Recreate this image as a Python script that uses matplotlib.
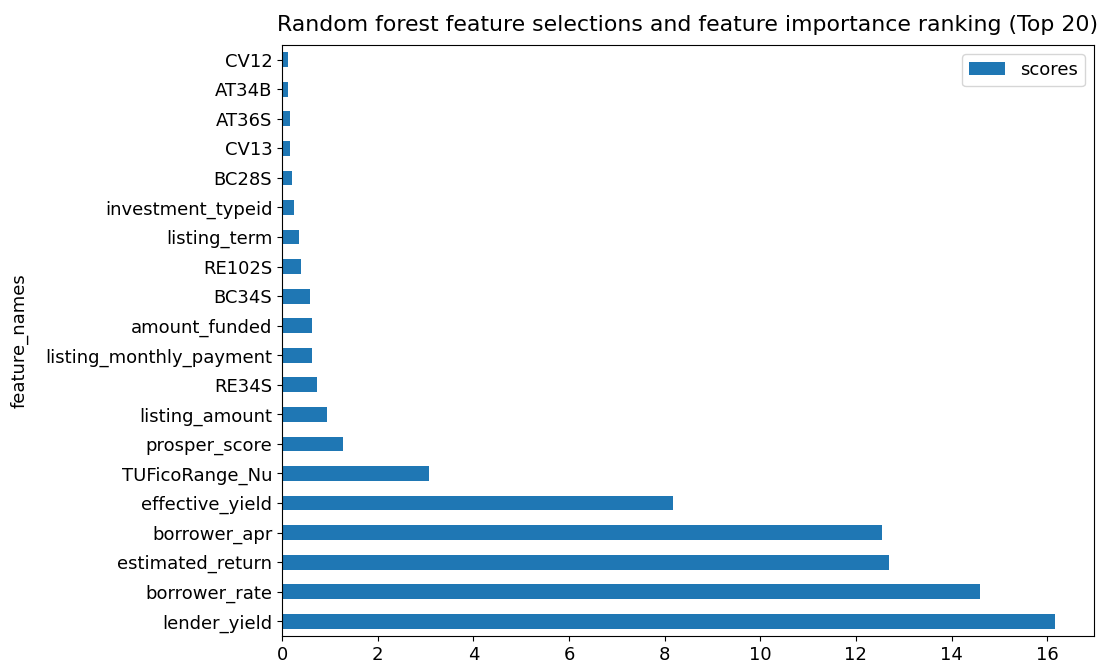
import pandas as pd
import matplotlib
matplotlib.use("Agg")
import matplotlib.pyplot as plt

# Top 20 features, largest first (drawn from the bottom up)
feature_names = [
    "lender_yield", "borrower_rate", "estimated_return", "borrower_apr",
    "effective_yield", "TUFicoRange_Nu", "prosper_score", "listing_amount",
    "RE34S", "listing_monthly_payment", "amount_funded", "BC34S", "RE102S",
    "listing_term", "investment_typeid", "BC28S", "CV13", "AT36S", "AT34B", "CV12",
]
scores = [
    16.17, 14.60, 12.69, 12.55, 8.17, 3.07, 1.28, 0.93, 0.74, 0.63,
    0.63, 0.59, 0.40, 0.36, 0.24, 0.21, 0.17, 0.17, 0.13, 0.13,
]

plt.rcParams["font.size"] = 13

df = pd.DataFrame({"feature_names": feature_names, "scores": scores}).set_index("feature_names")

fig = plt.figure(figsize=(11, 6.66), dpi=100)
ax = fig.add_axes([0.2564, 0.045, 0.7381, 0.8876])
df.plot(kind="barh", ax=ax, color="#1f77b4")
ax.set_title("Random forest feature selections and feature importance ranking (Top 20)",
             fontsize=15.8, pad=10)
ax.set_ylabel("feature_names", labelpad=12)
ax.legend(loc="upper right")

fig.savefig("out.png", dpi=100)
